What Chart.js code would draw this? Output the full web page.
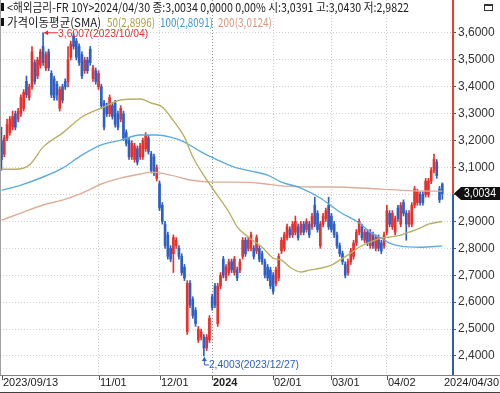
<!DOCTYPE html>
<html>
<head>
<meta charset="utf-8">
<script src="https://cdn.jsdelivr.net/npm/chart.js@4.4.1/dist/chart.umd.min.js"></script>
<style>
  html, body { margin: 0; padding: 0; background: #fff; overflow: hidden; }
  canvas { display: block; }
</style>
</head>
<body>
<canvas id="chart" width="500" height="393"></canvas>
<script>
// daily candles, 2023/09/13 .. 2024/04/30 (index = trading day)
const openV = [3.20,3.15,3.21,3.23,3.25,3.30,3.28,3.30,3.32,3.42,3.36,3.40,3.49,3.44,3.48,3.55,3.47,3.53,3.45,3.43,
  3.41,3.32,3.40,3.42,3.42,3.51,3.59,3.57,3.55,3.52,3.46,3.50,3.54,3.43,3.46,3.40,3.40,3.34,3.33,3.30,
  3.33,3.34,3.30,3.28,3.30,3.23,3.20,3.14,3.13,3.17,3.14,3.14,3.17,3.21,3.15,3.14,3.06,3.04,2.96,2.89,
  2.85,2.80,2.78,2.81,2.80,2.77,2.73,2.49,2.67,2.61,2.57,2.46,2.47,2.47,2.43,2.46,2.62,2.66,2.52,2.66,
  2.76,2.69,2.71,2.75,2.71,2.72,2.72,2.77,2.83,2.80,2.80,2.80,2.79,2.80,2.78,2.75,2.73,2.72,2.70,2.67,
  2.69,2.79,2.80,2.84,2.87,2.85,2.86,2.88,2.86,2.89,2.87,2.89,2.88,2.96,2.93,2.81,2.89,2.91,2.96,2.92,
  2.89,2.85,2.81,2.78,2.74,2.71,2.75,2.77,2.82,2.86,2.88,2.83,2.86,2.81,2.85,2.80,2.84,2.82,2.81,2.86,
  2.93,2.88,2.86,2.95,2.89,2.97,2.93,2.89,2.89,2.96,2.97,3.00,3.00,3.00,3.00,3.05,3.09,3.12,3.02,3.0391];
const highV = [3.25,3.22,3.28,3.29,3.31,3.31,3.32,3.37,3.39,3.44,3.41,3.55,3.50,3.51,3.54,3.6007,3.53,3.54,3.46,3.44,
  3.42,3.40,3.41,3.43,3.55,3.57,3.60,3.58,3.56,3.53,3.51,3.51,3.55,3.48,3.47,3.46,3.41,3.35,3.34,3.37,
  3.34,3.35,3.31,3.33,3.31,3.24,3.21,3.20,3.19,3.18,3.19,3.21,3.23,3.22,3.16,3.15,3.11,3.05,2.97,2.90,
  2.86,2.81,2.85,2.84,2.81,2.78,2.74,2.68,2.68,2.62,2.58,2.51,2.50,2.48,2.48,2.55,2.63,2.67,2.67,2.71,
  2.77,2.74,2.76,2.76,2.77,2.73,2.76,2.84,2.84,2.84,2.86,2.81,2.85,2.81,2.79,2.76,2.74,2.73,2.71,2.73,
  2.78,2.84,2.86,2.89,2.88,2.90,2.92,2.89,2.90,2.90,2.91,2.90,2.93,2.99,2.94,2.90,2.93,2.95,2.99,2.93,
  2.90,2.86,2.82,2.79,2.75,2.76,2.80,2.83,2.87,2.91,2.89,2.87,2.87,2.87,2.86,2.85,2.85,2.83,2.86,2.96,
  2.94,2.94,2.92,2.96,2.97,2.98,2.94,2.94,2.97,3.03,3.02,3.01,3.01,3.06,3.06,3.10,3.15,3.13,3.03,3.0430];
const lowV = [3.09,3.14,3.20,3.22,3.24,3.24,3.27,3.29,3.31,3.36,3.35,3.39,3.41,3.43,3.47,3.48,3.46,3.46,3.36,3.35,
  3.35,3.31,3.34,3.39,3.40,3.50,3.54,3.50,3.48,3.43,3.45,3.45,3.48,3.42,3.41,3.39,3.32,3.24,3.29,3.29,
  3.28,3.25,3.24,3.27,3.20,3.18,3.13,3.13,3.12,3.11,3.13,3.13,3.16,3.15,3.08,3.07,3.05,2.94,2.89,2.80,
  2.76,2.75,2.71,2.80,2.76,2.70,2.68,2.48,2.58,2.54,2.51,2.45,2.46,2.4003,2.42,2.45,2.57,2.58,2.51,2.65,
  2.69,2.68,2.70,2.71,2.70,2.68,2.71,2.76,2.77,2.79,2.79,2.76,2.78,2.75,2.74,2.69,2.68,2.65,2.63,2.66,
  2.68,2.78,2.79,2.83,2.84,2.84,2.85,2.83,2.85,2.85,2.86,2.84,2.87,2.88,2.86,2.80,2.88,2.90,2.87,2.86,
  2.84,2.80,2.77,2.74,2.69,2.70,2.74,2.76,2.81,2.85,2.83,2.82,2.81,2.80,2.80,2.79,2.79,2.78,2.80,2.85,
  2.88,2.87,2.85,2.90,2.88,2.92,2.83,2.88,2.88,2.95,2.96,2.96,2.96,2.99,2.99,3.04,3.08,3.06,2.97,2.9822];
const closeV = [3.13,3.21,3.26,3.28,3.29,3.25,3.31,3.36,3.38,3.37,3.40,3.53,3.42,3.50,3.53,3.49,3.52,3.47,3.37,3.36,
  3.37,3.39,3.35,3.40,3.50,3.56,3.55,3.51,3.49,3.44,3.50,3.46,3.49,3.47,3.42,3.45,3.33,3.25,3.30,3.36,
  3.29,3.26,3.25,3.32,3.21,3.19,3.14,3.19,3.18,3.12,3.18,3.20,3.22,3.16,3.09,3.08,3.10,2.95,2.90,2.81,
  2.77,2.76,2.84,2.83,2.77,2.71,2.69,2.67,2.59,2.55,2.52,2.50,2.49,2.43,2.47,2.54,2.58,2.59,2.66,2.70,
  2.70,2.73,2.75,2.72,2.76,2.69,2.75,2.83,2.78,2.83,2.85,2.77,2.84,2.76,2.75,2.70,2.69,2.66,2.64,2.72,
  2.77,2.83,2.85,2.88,2.85,2.89,2.90,2.84,2.89,2.86,2.90,2.85,2.92,2.89,2.87,2.89,2.92,2.94,2.88,2.87,
  2.85,2.81,2.78,2.75,2.70,2.75,2.79,2.82,2.86,2.90,2.84,2.86,2.82,2.86,2.81,2.84,2.80,2.79,2.85,2.94,
  2.89,2.93,2.91,2.91,2.96,2.93,2.89,2.93,2.96,3.02,3.01,2.97,2.97,3.05,3.05,3.09,3.13,3.07,2.98,3.0034];

// moving averages at sample days
const sma50Idx = [0,5,10,15,22,29,36,43,50,54,58,61,66,69,73,77,82,85,89,94,98,101,104,108,111,115,119,122,126,129,133,137,140,144,147,151,154,159];
const sma50Val = [3.094,3.094,3.109,3.176,3.228,3.288,3.321,3.351,3.355,3.340,3.325,3.288,3.213,3.140,3.070,3.010,2.935,2.880,2.842,2.804,2.764,2.756,2.730,2.712,2.719,2.726,2.738,2.756,2.782,2.804,2.823,2.838,2.842,2.849,2.860,2.875,2.890,2.8996];
const sma100Idx = [0,7,15,22,29,36,43,50,56,61,66,72,78,84,90,96,101,108,115,122,129,133,137,140,144,151,159];
const sma100Val = [3.016,3.035,3.065,3.098,3.146,3.184,3.202,3.221,3.221,3.213,3.195,3.158,3.128,3.102,3.087,3.072,3.046,3.024,2.987,2.935,2.894,2.860,2.838,2.819,2.808,2.804,2.8091];
const sma200Idx = [0,7,15,22,29,36,43,50,54,61,68,76,85,93,102,112,119,137,151,159];
const sma200Val = [2.905,2.931,2.961,2.979,3.005,3.039,3.061,3.076,3.083,3.072,3.054,3.046,3.046,3.042,3.031,3.028,3.028,3.020,3.013,3.0124];

const xTickIdx = [0, 35, 57, 76, 98, 119, 139, 159];
const xTickLabels = ['2023/09/13', '11/01', '12/01', '2024', '02/01', '03/01', '04/02', '2024/04/30'];
const yTicks = [2.4, 2.5, 2.6, 2.7, 2.8, 2.9, 3.0, 3.1, 3.2, 3.3, 3.4, 3.5, 3.6];
const lastPrice = 3.0034;
const highMark = { idx: 15, value: 3.6007, text: '3,6007(2023/10/04)' };
const lowMark = { idx: 73, value: 2.4003, text: '2,4003(2023/12/27)' };

const UP = '#e8302c';
const DOWN = '#2f5fc4';
const candleColors = closeV.map((c, i) => (c >= openV[i] ? UP : DOWN));
const fmt = v => v.toFixed(4).replace('.', ',');
const NUM_FONT = "'Liberation Sans', Arial, sans-serif";
const KR_FONT = "'Noto Sans CJK KR', 'Noto Sans', sans-serif";

// everything the scales don't draw: axis line, tag, labels, header
const overlay = {
  id: 'overlay',
  afterDraw(chart) {
    const c = chart.ctx, a = chart.chartArea;
    const xs = chart.scales.x, ys = chart.scales.y;
    c.save();
    // frame
    c.lineWidth = 1;
    c.strokeStyle = '#a0a0a0';
    c.beginPath(); c.moveTo(0.5, 0); c.lineTo(0.5, a.bottom); c.stroke();
    c.strokeStyle = '#808080';
    c.beginPath(); c.moveTo(0, a.bottom + 0.5); c.lineTo(500, a.bottom + 0.5); c.stroke();
    c.strokeStyle = '#404040';
    c.beginPath(); c.moveTo(0, 392.5); c.lineTo(500, 392.5); c.stroke();

    // price axis line, red above last price, blue below
    const yp = ys.getPixelForValue(lastPrice);
    c.fillStyle = '#e8402c'; c.fillRect(a.right, 0, 2, yp);
    c.fillStyle = '#2f5cb8'; c.fillRect(a.right, yp, 2, a.bottom - yp);

    // last price tag
    c.fillStyle = '#111';
    c.beginPath();
    c.moveTo(a.right + 2, yp);
    c.lineTo(a.right + 9, yp - 6.5);
    c.lineTo(500, yp - 6.5);
    c.lineTo(500, yp + 6.5);
    c.lineTo(a.right + 9, yp + 6.5);
    c.closePath(); c.fill();
    c.fillStyle = '#fff';
    c.font = '12px ' + NUM_FONT;
    c.textAlign = 'left'; c.textBaseline = 'middle';
    c.fillText(fmt(lastPrice), a.right + 12, yp + 0.5, 32);

    // date labels
    c.fillStyle = '#222';
    c.strokeStyle = '#555';
    xTickIdx.forEach((v, i) => {
      const lbl = xTickLabels[i];
      c.font = (lbl === '2024' ? 'bold ' : '') + '11px ' + NUM_FONT;
      if (i === xTickIdx.length - 1) {
        c.textAlign = 'right';
        c.fillText(lbl, 499, 383);
        return;
      }
      const px = i === 0 ? 2 : Math.round(xs.getPixelForValue(v));
      c.beginPath(); c.moveTo(px + 0.5, a.bottom + 1); c.lineTo(px + 0.5, a.bottom + 5); c.stroke();
      c.textAlign = 'left';
      c.fillText(lbl, px + 1, 383);
    });

    // high / low markers
    c.font = '11px ' + NUM_FONT;
    c.textAlign = 'left';
    const hx = xs.getPixelForValue(highMark.idx), hy = ys.getPixelForValue(highMark.value);
    c.strokeStyle = UP; c.fillStyle = UP;
    c.beginPath(); c.moveTo(hx + 1, hy); c.lineTo(hx + 15, hy); c.stroke();
    c.beginPath(); c.moveTo(hx + 1, hy); c.lineTo(hx + 5, hy - 2.5); c.lineTo(hx + 5, hy + 2.5); c.closePath(); c.fill();
    c.fillText(highMark.text, hx + 15, hy + 1, 90);

    const lx = xs.getPixelForValue(lowMark.idx), ly = ys.getPixelForValue(lowMark.value);
    c.strokeStyle = DOWN; c.fillStyle = DOWN;
    c.beginPath(); c.moveTo(lx + 0.5, ly + 1); c.lineTo(lx + 0.5, ly + 9); c.lineTo(lx + 5, ly + 9); c.stroke();
    c.beginPath(); c.moveTo(lx + 0.5, ly + 1); c.lineTo(lx - 2, ly + 5); c.lineTo(lx + 3, ly + 5); c.closePath(); c.fill();
    c.fillText(lowMark.text, lx + 5, ly + 9, 90);

    // header
    c.fillStyle = '#111';
    c.fillRect(1, 3, 3, 8);
    c.fillRect(1, 18, 3, 8);
    c.font = '12px ' + KR_FONT;
    c.textBaseline = 'middle';
    c.fillStyle = '#1a1a1a';
    c.fillText('<해외금리-FR 10Y>2024/04/30 종:3,0034 0,0000 0,00% 시:3,0391 고:3,0430 저:2,9822', 7, 7, 402);
    c.fillText('가격이동평균(SMA)', 7, 22, 94);
    c.fillStyle = '#a8a040'; c.fillText('50(' + fmt(sma50Val[sma50Val.length - 1]) + ')', 107, 22, 48);
    c.fillStyle = '#3d96d0'; c.fillText('100(' + fmt(sma100Val[sma100Val.length - 1]) + ')', 160, 22, 53);
    c.fillStyle = '#d49a80'; c.fillText('200(' + fmt(sma200Val[sma200Val.length - 1]) + ')', 218, 22, 54);

    // small window button top right
    c.strokeStyle = '#333';
    c.strokeRect(484.5, 4.5, 8, 6);
    c.fillStyle = '#333'; c.fillRect(484, 4, 9, 2);
    c.restore();
  }
};

const lineSet = (label, idx, vals, color) => ({
  type: 'line',
  label,
  data: idx.map((x, i) => ({ x, y: vals[i] })),
  borderColor: color,
  borderWidth: 1.4,
  pointRadius: 0,
  cubicInterpolationMode: 'monotone',
  order: 0,
});

new Chart(document.getElementById('chart'), {
  type: 'bar',
  data: {
    datasets: [
      lineSet('SMA50', sma50Idx, sma50Val, '#b8b064'),
      lineSet('SMA100', sma100Idx, sma100Val, '#5cacde'),
      lineSet('SMA200', sma200Idx, sma200Val, '#dcae98'),
      {
        label: 'body',
        data: openV.map((o, i) => ({ x: i, y: [o, closeV[i]] })),
        backgroundColor: candleColors,
        barThickness: 2,
        minBarLength: 1,
        grouped: false,
        order: 1,
      },
      {
        label: 'wick',
        data: lowV.map((l, i) => ({ x: i, y: [l, highV[i]] })),
        backgroundColor: candleColors,
        barThickness: 1,
        grouped: false,
        order: 2,
      },
    ],
  },
  options: {
    responsive: false,
    animation: false,
    layout: { padding: 0 },
    plugins: { legend: { display: false }, tooltip: { enabled: false } },
    scales: {
      x: {
        type: 'linear',
        offset: false,
        min: -0.54,
        max: 162.5,
        afterBuildTicks: s => { s.ticks = xTickIdx.slice(1, -1).map(v => ({ value: v })); },
        afterFit: s => { s.height = 18; s.paddingLeft = 0; s.paddingRight = 0; },
        ticks: { display: false },
        border: { display: false, dash: [1, 2] },
        grid: {
          offset: false,
          drawTicks: false,
          color: ctx => (ctx.tick && ctx.tick.value === 76 ? '#8c8c8c' : '#cfcfcf'),
        },
      },
      y: {
        position: 'right',
        min: 2.3294,
        max: 3.7226,
        afterBuildTicks: s => { s.ticks = yTicks.map(v => ({ value: v })); },
        afterFit: s => { s.width = 48; s.paddingTop = 0; s.paddingBottom = 0; },
        ticks: {
          padding: 2,
          color: '#333',
          font: { family: NUM_FONT, size: 12 },
          callback: v => (Math.abs(v - 3.0) < 1e-9 ? '' : fmt(v)),
        },
        border: { display: false, dash: [1, 2] },
        grid: { color: '#cfcfcf', tickColor: '#555', tickLength: 4 },
      },
    },
  },
  plugins: [overlay],
});
</script>
</body>
</html>
